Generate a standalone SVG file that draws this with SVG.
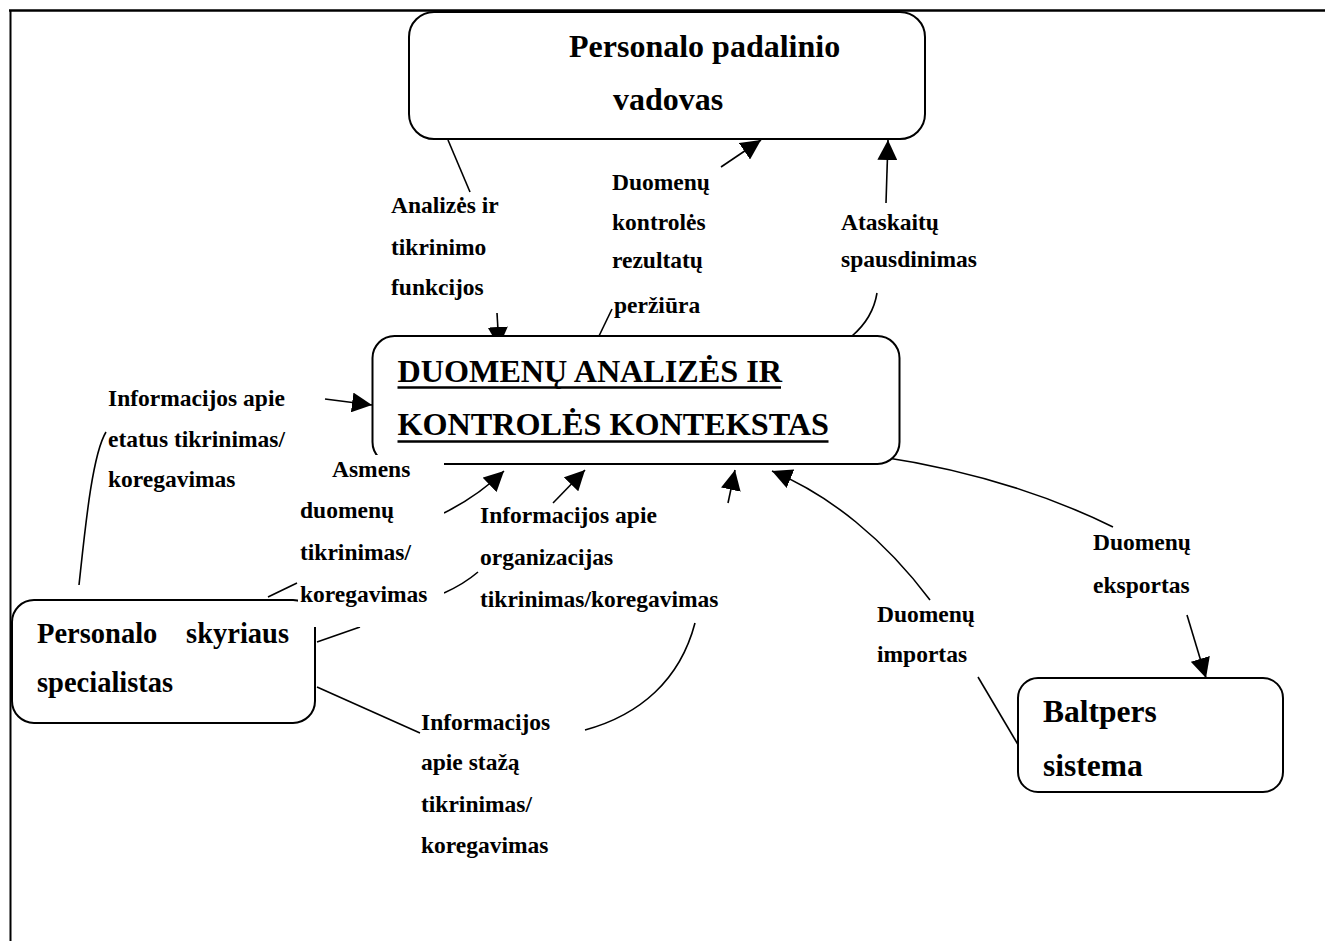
<svg xmlns="http://www.w3.org/2000/svg" width="1325" height="941" viewBox="0 0 1325 941">
  <style>
    .frame { stroke: #000; fill: none; }
    .box { fill: #fff; stroke: #000; stroke-width: 2; }
    .c { fill: none; stroke: #000; stroke-width: 1.6; }
    .arr { marker-end: url(#ah); }
    text { font-family: "Liberation Serif", "Times New Roman", serif; font-weight: bold; fill: #000; }
    .lbl { font-size: 23.5px; }
    .title { font-size: 32px; }
    .actor { font-size: 28.5px; }
    .ctx { font-size: 32.2px; }
    .sys { font-size: 31.5px; }
    .ul { stroke: #000; stroke-width: 2.6; }
    .mask { fill: #fff; stroke: none; }
  </style>
  <defs>
    <marker id="ah" viewBox="0 0 20 20" refX="20" refY="10" markerUnits="userSpaceOnUse" markerWidth="20" markerHeight="20" orient="auto">
      <path d="M0,0 L20,10 L0,20 z" fill="#000"/>
    </marker>
  </defs>

  <!-- page frame -->
  <g id="frame">
    <line class="frame" x1="9" y1="10.5" x2="1325" y2="10.5" stroke-width="2.5"/>
    <line class="frame" x1="10.5" y1="10" x2="10.5" y2="941" stroke-width="2" stroke="#222"/>
  </g>

  <!-- data flows -->
  <g id="connectors">
    <!-- Analizės ir tikrinimo funkcijos -->
    <path class="c" d="M448,140 L470,192"/>
    <path class="c arr" d="M497,313 L499,347"/>
    <!-- Duomenų kontrolės rezultatų peržiūra -->
    <path class="c" d="M599,336 L612,309"/>
    <path class="c arr" d="M721,167 L761,140"/>
    <!-- Ataskaitų spausdinimas -->
    <path class="c" d="M852,336 Q873,318 877,293"/>
    <path class="c arr" d="M886,203 L888,140"/>
    <!-- Informacijos apie etatus -->
    <path class="c" d="M79,585 C85,530 92,455 106,432"/>
    <path class="c arr" d="M325,399 L372,405"/>
    <!-- Asmens duomenų -->
    <path class="c" d="M268,597 L297,583"/>
    <path class="c arr" d="M444,513 Q478,496 504,471"/>
    <!-- Informacijos apie organizacijas -->
    <path class="c" d="M317,642 L360,627"/>
    <path class="c" d="M444,593 Q464,584 478,572"/>
    <path class="c arr" d="M553,503 L585,470"/>
    <!-- Informacijos apie stažą -->
    <path class="c" d="M317,687 L420,733"/>
    <path class="c" d="M585,730 C640,715 680,680 695,623"/>
    <path class="c arr" d="M728,503 L735,470"/>
    <!-- Duomenų importas -->
    <path class="c" d="M1020,748 L978,677"/>
    <path class="c arr" d="M930,600 C885,540 830,495 772,471"/>
    <!-- Duomenų eksportas -->
    <path class="c" d="M876,456 Q1010,476 1113,527"/>
    <path class="c arr" d="M1187,615 L1206,678"/>
  </g>

  <!-- external entity: head of HR -->
  <g id="node-vadovas">
    <rect class="box" x="409" y="12" width="516" height="127" rx="25"/>
    <text class="title" x="569" y="57">Personalo padalinio</text>
    <text class="title" x="613" y="110">vadovas</text>
  </g>

  <!-- the process itself -->
  <g id="node-kontekstas">
    <rect class="box" x="372.5" y="336" width="527" height="128" rx="22"/>
    <text class="ctx" x="397.5" y="382">DUOMENŲ ANALIZĖS IR</text>
    <line class="ul" x1="397.5" y1="387.5" x2="781" y2="387.5"/>
    <text class="ctx" x="397.5" y="435">KONTROLĖS KONTEKSTAS</text>
    <line class="ul" x1="397.5" y1="441.5" x2="828.5" y2="441.5"/>
  </g>

  <!-- external entity: HR specialist -->
  <g id="node-specialistas">
    <rect class="box" x="12" y="600" width="303" height="123" rx="22"/>
    <text class="actor" x="37" y="643">Personalo</text>
    <text class="actor" x="289" y="643" text-anchor="end">skyriaus</text>
    <text class="actor" x="37" y="692">specialistas</text>
  </g>

  <!-- external system -->
  <g id="node-baltpers">
    <rect class="box" x="1018" y="678" width="265" height="114" rx="20"/>
    <text class="sys" x="1043" y="722">Baltpers</text>
    <text class="sys" x="1043" y="776">sistema</text>
  </g>

  <!-- flow labels -->
  <g id="labels" class="lbl">
    <g id="lbl-analize">
      <text class="lbl" x="391" y="213">Analizės ir</text>
      <text class="lbl" x="391" y="255">tikrinimo</text>
      <text class="lbl" x="391" y="295">funkcijos</text>
    </g>
    <g id="lbl-perziura">
      <text class="lbl" x="612" y="190">Duomenų</text>
      <text class="lbl" x="612" y="230">kontrolės</text>
      <text class="lbl" x="612" y="268">rezultatų</text>
      <text class="lbl" x="614" y="313">peržiūra</text>
    </g>
    <g id="lbl-ataskaitos">
      <text class="lbl" x="841" y="230">Ataskaitų</text>
      <text class="lbl" x="841" y="267">spausdinimas</text>
    </g>
    <g id="lbl-etatai">
      <text class="lbl" x="108" y="406">Informacijos apie</text>
      <text class="lbl" x="108" y="447">etatus tikrinimas/</text>
      <text class="lbl" x="108" y="487">koregavimas</text>
    </g>
    <g id="lbl-asmens">
      <rect class="mask" x="298" y="455" width="146" height="172"/>
      <text class="lbl" x="332" y="477">Asmens</text>
      <text class="lbl" x="300" y="518">duomenų</text>
      <text class="lbl" x="300" y="560">tikrinimas/</text>
      <text class="lbl" x="300" y="602">koregavimas</text>
    </g>
    <g id="lbl-organizacijos">
      <text class="lbl" x="480" y="523">Informacijos apie</text>
      <text class="lbl" x="480" y="565">organizacijas</text>
      <text class="lbl" x="480" y="607">tikrinimas/koregavimas</text>
    </g>
    <g id="lbl-stazas">
      <text class="lbl" x="421" y="730">Informacijos</text>
      <text class="lbl" x="421" y="770">apie stažą</text>
      <text class="lbl" x="421" y="812">tikrinimas/</text>
      <text class="lbl" x="421" y="853">koregavimas</text>
    </g>
    <g id="lbl-importas">
      <text class="lbl" x="877" y="622">Duomenų</text>
      <text class="lbl" x="877" y="662">importas</text>
    </g>
    <g id="lbl-eksportas">
      <text class="lbl" x="1093" y="550">Duomenų</text>
      <text class="lbl" x="1093" y="593">eksportas</text>
    </g>
  </g>
</svg>
